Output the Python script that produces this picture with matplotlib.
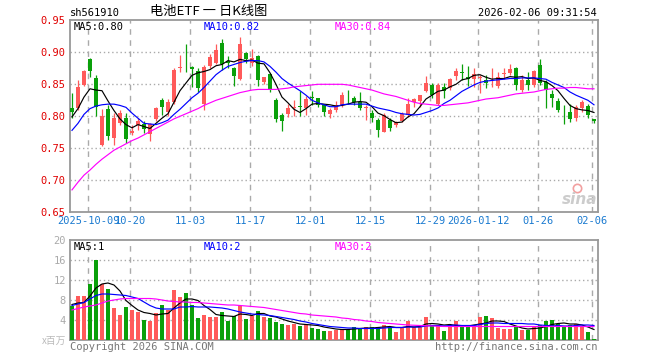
import numpy as np
import matplotlib
matplotlib.use("Agg")
from matplotlib import pyplot as plt

plt.rcParams['font.family'] = ['DejaVu Sans Mono', 'Noto Sans CJK SC']

# daily candles, 2025-09-26 .. 2026-02-06
opens = [.8125, .8125, .849, .889, .860, .755, .811, .766, .789, .797,
         .774, .786, .788, .772, .796, .826, .807, .822, .876, .876,
         .877, .871, .820, .878, .884, .914, .887, .875, .858, .899,
         .883, .894, .853, .866, .826, .802, .803, .813, .816, .8135,
         .830, .828, .818, .803, .810, .818, .829, .829, .823, .813,
         .805, .794, .776, .794, .786, .792, .802, .822, .824, .840,
         .849, .820, .8464, .844, .863, .869, .862, .859, .860, .857,
         .853, .848, .866, .867, .875, .841, .857, .849, .880, .853,
         .835, .824, .809, .806, .798, .8125, .8167, .796]
highs = [.836, .856, .872, .891, .864, .812, .818, .805, .810, .805,
         .786, .797, .792, .790, .814, .828, .827, .875, .896, .913,
         .878, .875, .880, .898, .913, .921, .895, .877, .924, .901,
         .905, .896, .862, .867, .828, .805, .820, .826, .839, .831,
         .839, .829, .820, .8125, .824, .8385, .841, .831, .8385, .818,
         .810, .797, .805, .797, .793, .806, .828, .828, .834, .8635,
         .8516, .8516, .8516, .860, .875, .881, .879, .875, .8646, .8646,
         .875, .870, .875, .881, .8776, .8646, .870, .8724, .889, .857,
         .841, .828, .818, .820, .8177, .8255, .819, .796]
lows = [.798, .810, .847, .862, .800, .753, .763, .755, .786, .759,
        .771, .778, .774, .762, .793, .802, .801, .820, .870, .869,
        .846, .838, .810, .875, .882, .873, .875, .848, .856, .884,
        .879, .847, .851, .838, .791, .777, .799, .800, .800, .802,
        .818, .815, .801, .797, .806, .815, .820, .818, .810, .794,
        .791, .768, .775, .777, .784, .791, .799, .815, .815, .8375,
        .829, .8177, .829, .841, .857, .857, .848, .846, .836, .844,
        .846, .844, .859, .8646, .841, .8385, .841, .8464, .849, .8135,
        .815, .806, .7875, .791, .7927, .807, .797, .789]
closes = [.806, .846, .870, .871, .815, .800, .769, .797, .805, .765,
          .777, .793, .780, .788, .8125, .815, .822, .872, .877, .875,
          .874, .845, .877, .893, .904, .882, .883, .863, .913, .889,
          .891, .857, .861, .842, .796, .792, .8125, .814, .815, .827,
          .829, .818, .806, .810, .818, .834, .828, .822, .8125, .814,
          .798, .779, .802, .781, .791, .803, .820, .827, .833, .8516,
          .833, .849, .8396, .858, .871, .868, .858, .8656, .861, .852,
          .854, .862, .867, .874, .849, .857, .849, .871, .8516, .841,
          .829, .810, .808, .796, .815, .822, .802, .793]

ma5 = [.799, .812, .830, .843, .841, .840, .824, .809, .796, .787,
       .782, .787, .784, .781, .789, .797, .804, .822, .840, .852,
       .864, .868, .870, .873, .879, .881, .887, .885, .889, .887,
       .888, .883, .882, .868, .850, .830, .821, .811, .806, .812,
       .819, .820, .819, .818, .816, .817, .819, .822, .823, .822,
       .815, .805, .801, .795, .790, .791, .799, .804, .815, .827,
       .833, .839, .841, .846, .850, .857, .859, .864, .865, .861,
       .858, .859, .859, .862, .861, .862, .859, .860, .856, .854,
       .848, .840, .828, .817, .812, .810, .809, .806]
ma10 = [.778, .789, .803, .812, .816, .818, .819, .819, .817, .814,
        .805, .797, .789, .788, .787, .790, .794, .803, .811, .820,
        .829, .836, .845, .855, .865, .872, .878, .881, .884, .886,
        .887, .887, .885, .878, .869, .859, .852, .846, .840, .833,
        .825, .821, .818, .815, .815, .818, .819, .819, .819, .819,
        .816, .813, .811, .809, .806, .804, .803, .802, .803, .806,
        .809, .813, .820, .825, .832, .839, .844, .849, .853, .855,
        .856, .857, .858, .859, .859, .860, .860, .860, .859, .858,
        .853, .849, .845, .838, .833, .829, .825, .818]
ma30 = [.685, .697, .708, .716, .725, .733, .740, .747, .752, .757,
        .762, .766, .771, .776, .781, .786, .791, .796, .800, .804,
        .808, .812, .817, .821, .825, .828, .831, .834, .837, .839,
        .841, .842, .842, .842, .842, .843, .844, .846, .847, .848,
        .849, .850, .850, .850, .850, .850, .849, .847, .845, .843,
        .841, .838, .835, .833, .831, .828, .825, .822, .820, .819,
        .818, .817, .817, .818, .819, .820, .821, .823, .825, .827,
        .828, .829, .831, .833, .835, .836, .837, .838, .840, .842,
        .843, .844, .844, .845, .845, .844, .843, .843]

# volume, millions
volume = [6.9, 8.8, 8.8, 11.3, 16.0, 11.3, 10.2, 6.5, 5.0, 6.6,
          6.1, 5.7, 4.1, 3.8, 5.4, 7.0, 6.0, 10.0, 8.7, 9.4,
          7.0, 4.4, 5.0, 4.6, 4.6, 5.7, 3.9, 4.8, 6.9, 4.2,
          4.9, 5.8, 4.7, 4.5, 3.6, 3.2, 3.1, 3.3, 2.9, 3.2,
          2.5, 2.3, 1.9, 1.9, 2.0, 2.2, 2.2, 2.6, 2.2, 2.6,
          2.6, 2.6, 3.0, 2.6, 1.6, 2.6, 3.8, 2.6, 2.6, 4.6,
          3.0, 3.0, 1.8, 3.0, 3.8, 2.6, 2.6, 2.6, 4.6, 4.8,
          4.4, 2.4, 2.2, 2.2, 2.6, 2.0, 2.0, 2.6, 3.0, 3.8,
          4.0, 3.2, 2.8, 3.0, 3.2, 2.6, 1.6, 0.3]
vol_ma5 = [7.1, 7.4, 7.5, 8.8, 10.4, 11.2, 11.4, 11.0, 9.8, 7.9,
           6.9, 6.0, 5.5, 5.3, 5.0, 5.2, 5.3, 6.4, 7.4, 8.2,
           8.2, 7.9, 6.9, 6.1, 5.1, 4.9, 4.8, 4.7, 5.2, 5.1,
           4.9, 5.3, 5.3, 4.8, 4.6, 4.2, 3.8, 3.5, 3.2, 3.1,
           3.0, 2.9, 2.6, 2.4, 2.2, 2.1, 2.1, 2.2, 2.3, 2.4,
           2.4, 2.5, 2.6, 2.7, 2.5, 2.5, 2.7, 2.6, 2.7, 3.2,
           3.3, 3.2, 3.0, 3.1, 2.9, 2.8, 2.8, 3.0, 3.2, 3.4,
           3.8, 3.8, 3.7, 3.2, 2.8, 2.4, 2.2, 2.3, 2.4, 2.7,
           3.1, 3.3, 3.4, 3.2, 3.2, 3.0, 2.6, 2.1]
vol_ma10 = [6.9, 7.2, 7.5, 8.2, 8.9, 9.2, 9.2, 9.1, 9.0, 8.9,
            8.6, 8.3, 7.6, 6.9, 6.4, 6.2, 6.2, 6.2, 6.6, 6.6,
            6.7, 6.6, 6.6, 6.6, 6.5, 6.4, 6.2, 5.9, 5.6, 5.4,
            5.2, 5.1, 5.0, 4.9, 4.7, 4.5, 4.3, 4.1, 3.8, 3.6,
            3.3, 3.1, 2.9, 2.7, 2.6, 2.5, 2.4, 2.4, 2.3, 2.3,
            2.3, 2.3, 2.4, 2.5, 2.5, 2.5, 2.6, 2.6, 2.6, 2.8,
            2.9, 2.9, 2.8, 2.9, 3.0, 2.9, 2.9, 2.9, 3.1, 3.3,
            3.4, 3.4, 3.3, 3.3, 3.3, 3.3, 3.2, 3.2, 3.0, 2.9,
            2.8, 2.9, 2.8, 2.8, 2.9, 3.0, 3.0, 2.9]
vol_ma30 = [6.0, 6.3, 6.6, 6.8, 7.0, 7.4, 7.8, 8.0, 8.2, 8.3,
            8.3, 8.3, 8.3, 8.3, 8.2, 8.0, 7.8, 7.7, 7.6, 7.6,
            7.5, 7.5, 7.4, 7.3, 7.2, 7.1, 7.0, 7.0, 6.9, 6.8,
            6.7, 6.6, 6.5, 6.3, 6.1, 5.9, 5.7, 5.5, 5.3, 5.2,
            5.0, 4.9, 4.8, 4.7, 4.6, 4.4, 4.3, 4.1, 4.0, 3.8,
            3.7, 3.5, 3.4, 3.3, 3.2, 3.1, 3.0, 2.95, 2.9, 2.85,
            2.8, 2.75, 2.7, 2.7, 2.7, 2.7, 2.7, 2.7, 2.7, 2.7,
            2.7, 2.7, 2.7, 2.7, 2.7, 2.7, 2.7, 2.7, 2.7, 2.7,
            2.7, 2.7, 2.7, 2.7, 2.7, 2.7, 2.7, 2.7]

date_idx = [3, 10, 20, 30, 40, 50, 60, 68, 78, 87]
date_lab = ['2025-10-09', '10-20', '11-03', '11-17', '12-01', '12-15',
            '12-29', '2026-01-12', '01-26', '02-06']
price_ticks = [0.65, 0.70, 0.75, 0.80, 0.85, 0.90, 0.95]
vol_ticks = [4, 8, 12, 16, 20]

RED = '#ff5a5a'
GREEN = '#0aa00a'
GRID = '#aaaaaa'
W, H = 660, 360

o = np.array(opens); c = np.array(closes)
h = np.array(highs); l = np.array(lows)
x = np.arange(len(o))
up = c >= o
cols = np.where(up, RED, GREEN)

fig = plt.figure(figsize=(6.6, 3.6), dpi=100)
ax = fig.add_axes([70 / W, 1 - 212.3 / H, 528 / W, 192 / H])
av = fig.add_axes([70 / W, 1 - 340 / H, 528 / W, 100 / H])

# price panel
ax.vlines(x, l, h, colors=cols, lw=0.9, zorder=3)
body = np.maximum(np.abs(c - o), 0.0009)
ax.bar(x, body, bottom=np.minimum(o, c), width=0.8, color=cols, lw=0, zorder=4)
ax.plot(x, ma5, color='black', lw=0.85, zorder=5)
ax.plot(x, ma10, color='#0000ff', lw=0.85, zorder=5)
ax.plot(x, ma30, color='#ff00ff', lw=0.85, zorder=5)
ax.set_xlim(-0.33, 87.67)
ax.set_ylim(0.65, 0.95)
ax.set_yticks(price_ticks)
ax.set_yticklabels(['%.2f' % v for v in price_ticks], color='#e00000', fontsize=7.5)
for v in price_ticks[1:-1]:
    ax.axhline(v, color=GRID, ls=(0, (1, 2)), lw=1, zorder=1)
ax.set_xticks([i - 0.3 for i in date_idx])
ax.set_xticklabels(date_lab, color='#1a7ad0', fontsize=7.5)

# volume panel
av.bar(x, volume, width=0.8, color=cols, lw=0, zorder=3)
av.plot(x, vol_ma5, color='black', lw=0.85, zorder=5)
av.plot(x, vol_ma10, color='#0000ff', lw=0.85, zorder=5)
av.plot(x, vol_ma30, color='#ff00ff', lw=0.85, zorder=5)
av.set_xlim(-0.33, 87.67)
av.set_ylim(0, 20)
av.set_yticks(vol_ticks)
av.set_yticklabels([str(v) for v in vol_ticks], color='#aaaaaa', fontsize=7.5)
for v in vol_ticks[:-1]:
    av.axhline(v, color=GRID, ls=(0, (1, 2)), lw=1, zorder=1)
av.set_xticks([])

for a in (ax, av):
    for i in date_idx:
        a.axvline(i - 0.3, color=GRID, ls=(0, (4, 4)), lw=1, zorder=1)
    for s in a.spines.values():
        s.set_color('#999999')
        s.set_linewidth(1.3)
    a.tick_params(length=0, pad=3)

# texts
fig.text(70 / W, 1 - 13 / H, 'sh561910', fontsize=7.5, va='center')
fig.text(209 / W, 1 - 12 / H, '电池ETF 一 日K线图', fontsize=9.5, ha='center', va='center',
         family=['Noto Sans CJK SC', 'DejaVu Sans'])
fig.text(597 / W, 1 - 13 / H, '2026-02-06 09:31:54', fontsize=7.5, ha='right', va='center')
fig.text(74 / W, 1 - 27 / H, 'MA5:0.80', fontsize=7.5, va='center')
fig.text(204 / W, 1 - 27 / H, 'MA10:0.82', fontsize=7.5, va='center', color='#0000ff')
fig.text(335 / W, 1 - 27 / H, 'MA30:0.84', fontsize=7.5, va='center', color='#ff00ff')
fig.text(74 / W, 1 - 247 / H, 'MA5:1', fontsize=7.5, va='center')
fig.text(204 / W, 1 - 247 / H, 'MA10:2', fontsize=7.5, va='center', color='#0000ff')
fig.text(335 / W, 1 - 247 / H, 'MA30:2', fontsize=7.5, va='center', color='#ff00ff')
fig.text(66 / W, 1 - 341 / H, 'x百万', fontsize=7, ha='right', va='center', color='#bbbbbb',
         family=['Noto Sans CJK SC', 'DejaVu Sans'])
fig.text(70 / W, 1 - 347 / H, 'Copyright 2026 SINA.COM', fontsize=7.5, va='center', color='#777777')
fig.text(598 / W, 1 - 347 / H, 'http://finance.sina.com.cn', fontsize=7.5, ha='right', va='center',
         color='#777777')
# sina watermark
fig.text(580 / W, 1 - 200 / H, 'sina', fontsize=11, ha='center', va='center', color='#cccccc',
         style='italic', weight='bold', family='DejaVu Sans')
ax.plot([577 / W], [1 - 188 / H], transform=fig.transFigure, marker='o', ms=6,
        mfc='none', mec='#f2a0a0', mew=1.2, clip_on=False)

fig.savefig('out.png', dpi=100)
